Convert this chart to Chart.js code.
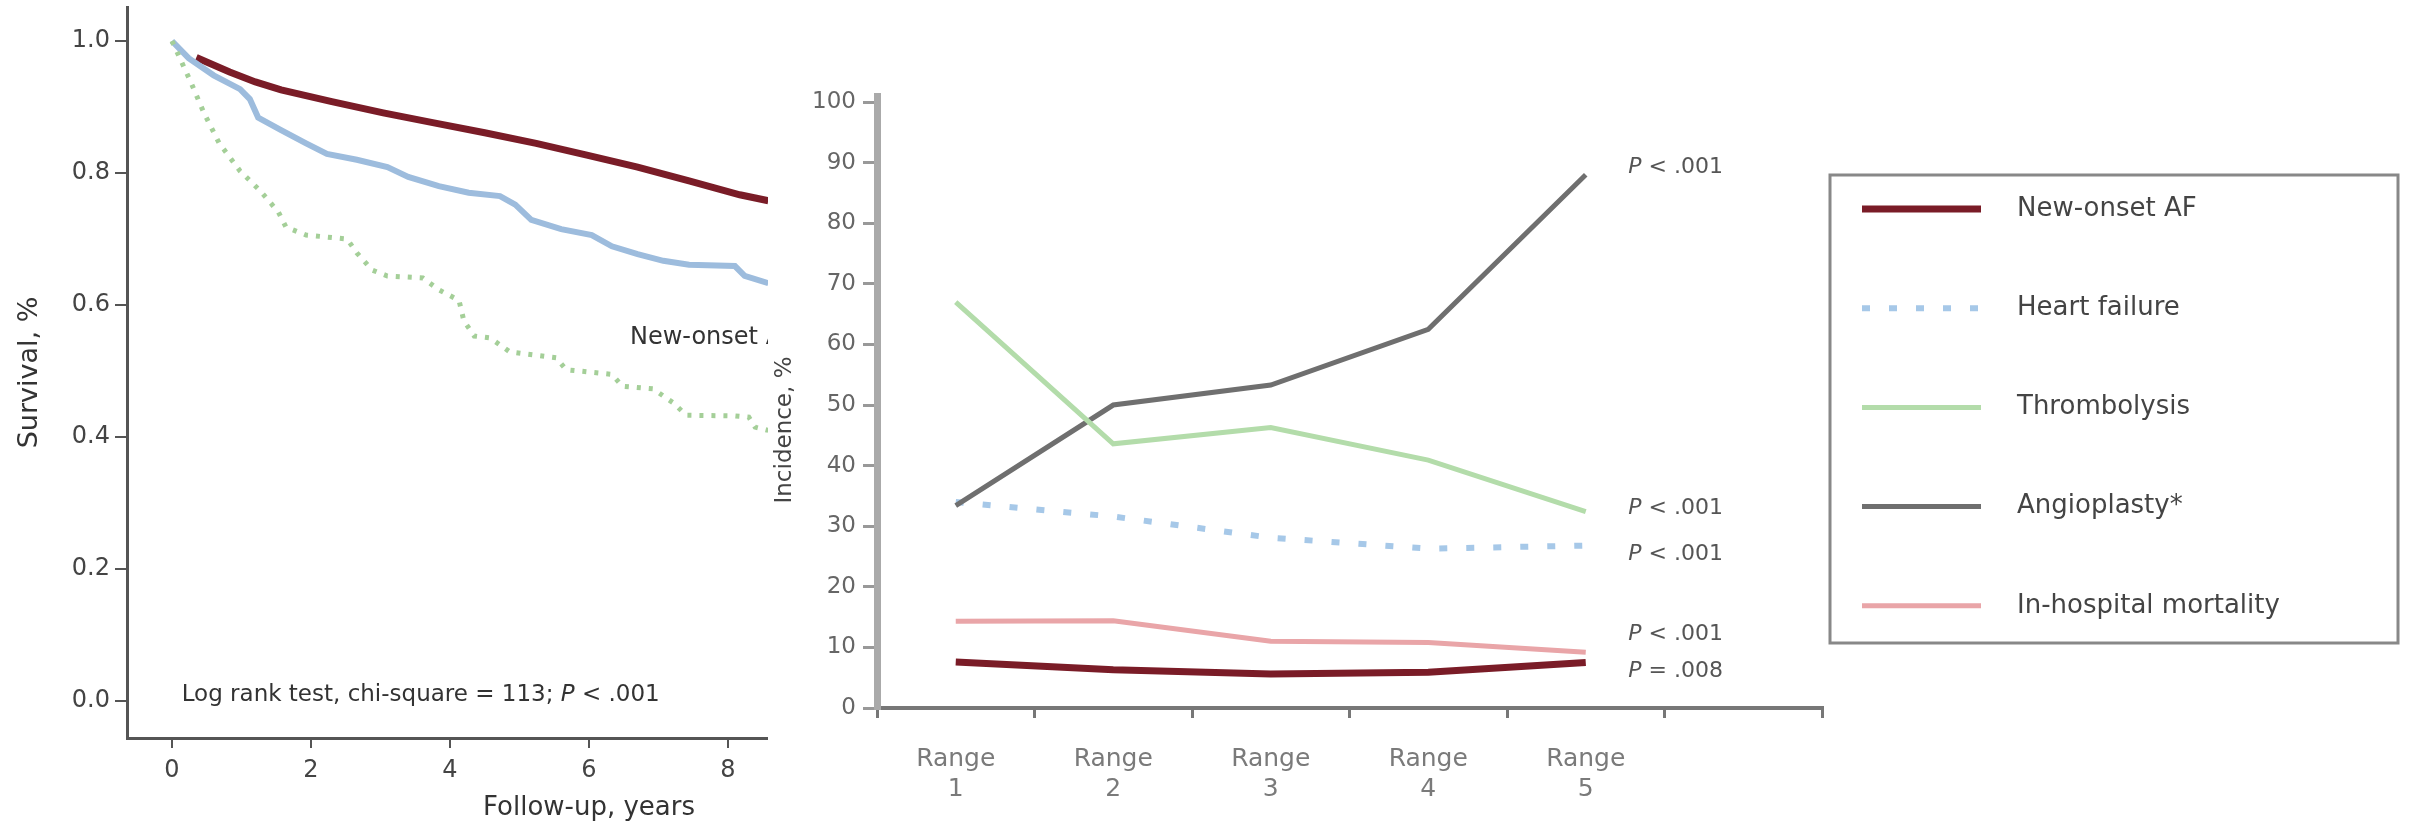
<!DOCTYPE html>
<html>
<head>
<meta charset="utf-8">
<script src="https://cdn.jsdelivr.net/npm/chart.js@4.4.1/dist/chart.umd.min.js"></script>
<style>
  html, body { margin: 0; padding: 0; background: #fff; width: 2415px; height: 828px; overflow: hidden; }
  #survival { position: absolute; left: 0; top: 0; }
  #incidence { position: absolute; left: 768px; top: 0; }
</style>
</head>
<body>
<canvas id="survival" width="768" height="828"></canvas>
<canvas id="incidence" width="1647" height="828"></canvas>
<script>
const FONT = '"DejaVu Sans", "Liberation Sans", sans-serif';

// ---- Kaplan-Meier survival by group (years of follow-up, survival fraction) ----
const noAfYears       = [0.35, 0.83, 1.2, 1.57, 2.3, 3.04, 3.77, 4.5, 5.24, 5.97, 6.7, 7.44, 8.17, 8.58];
const noAfSurvival    = [0.975, 0.953, 0.938, 0.926, 0.908, 0.891, 0.876, 0.861, 0.845, 0.827, 0.809, 0.788, 0.767, 0.758];

const priorAfYears    = [0, 0.24, 0.6, 0.98, 1.12, 1.24, 1.57, 1.93, 2.23, 2.66, 3.1, 3.4, 3.84, 4.27, 4.72, 4.94, 5.17, 5.6, 6.04, 6.33, 6.7, 7.07, 7.44, 8.1, 8.24, 8.58];
const priorAfSurvival = [1.0, 0.974, 0.948, 0.927, 0.912, 0.884, 0.865, 0.845, 0.829, 0.82, 0.809, 0.794, 0.78, 0.77, 0.765, 0.752, 0.729, 0.715, 0.706, 0.689, 0.677, 0.667, 0.661, 0.659, 0.644, 0.633];

const newAfYears      = [0, 0.27, 0.46, 0.68, 0.98, 1.27, 1.53, 1.64, 1.93, 2.52, 2.66, 2.88, 3.1, 3.61, 3.84, 4.13, 4.2, 4.35, 4.58, 4.86, 5.53, 5.67, 6.33, 6.48, 6.92, 7.21, 7.4, 8.1, 8.3, 8.39, 8.58];
const newAfSurvival   = [1.0, 0.938, 0.891, 0.845, 0.803, 0.773, 0.741, 0.718, 0.706, 0.7, 0.679, 0.653, 0.644, 0.641, 0.623, 0.607, 0.576, 0.553, 0.55, 0.529, 0.52, 0.502, 0.495, 0.477, 0.473, 0.452, 0.433, 0.432, 0.43, 0.415, 0.41];

const yearTicks     = [0, 2, 4, 6, 8];
const survivalTicks = [0, 0.2, 0.4, 0.6, 0.8, 1.0];

// ---- In-hospital outcomes across ranges (%) ----
const rangeLabels  = [['Range', '1'], ['Range', '2'], ['Range', '3'], ['Range', '4'], ['Range', '5']];
const newOnsetAF   = [7.6, 6.3, 5.6, 5.9, 7.5];
const heartFailure = [34, 31.6, 28.1, 26.3, 26.8];
const thrombolysis = [67, 43.6, 46.3, 40.9, 32.4];
const angioplasty  = [33.4, 50, 53.3, 62.5, 88];
const mortality    = [14.3, 14.4, 11, 10.8, 9.2];
const incidenceTicks = [0, 10, 20, 30, 40, 50, 60, 70, 80, 90, 100];
const trendP = ['< .001', '< .001', '< .001', '< .001', '= .008'];

const zip = (xs, ys) => xs.map((x, i) => ({ x, y: ys[i] }));
const rangePositions = rangeLabels.map((_, i) => i + 1);

// Draws "P" in italics followed by the rest of the string.
function drawP(ctx, x, y, rest, size) {
  ctx.font = `italic ${size}px ${FONT}`;
  ctx.fillText('P', x, y);
  const w = ctx.measureText('P').width;
  ctx.font = `${size}px ${FONT}`;
  ctx.fillText(' ' + rest, x + w, y);
}

// ---------------- Survival panel ----------------
const survivalText = {
  id: 'survivalText',
  afterDraw(chart) {
    const { ctx, chartArea: a, scales: { x, y } } = chart;
    ctx.save();
    ctx.fillStyle = '#333';
    ctx.textBaseline = 'middle';

    ctx.save();
    ctx.translate(30, (a.top + a.bottom) / 2);
    ctx.rotate(-Math.PI / 2);
    ctx.textAlign = 'center';
    ctx.font = `27px ${FONT}`;
    ctx.fillText('Survival, %', 0, 0);
    ctx.restore();

    ctx.textAlign = 'center';
    ctx.font = `26px ${FONT}`;
    ctx.fillText('Follow-up, years', 589, 808);

    ctx.textAlign = 'left';
    ctx.font = `24px ${FONT}`;
    ctx.fillText('New-onset AF', x.getPixelForValue(6.59), y.getPixelForValue(0.55));

    const lx = x.getPixelForValue(0.14), ly = y.getPixelForValue(0.009);
    ctx.font = `23px ${FONT}`;
    const head = 'Log rank test, chi-square = 113; ';
    ctx.fillText(head, lx, ly);
    drawP(ctx, lx + ctx.measureText(head).width, ly, '< .001', 23);
    ctx.restore();
  }
};

new Chart(document.getElementById('survival'), {
  type: 'scatter',
  data: {
    datasets: [
      { label: 'New-onset AF', data: zip(newAfYears, newAfSurvival), showLine: true, pointRadius: 0,
        borderColor: '#a4cf98', borderWidth: 5, borderDash: [4, 8] },
      { label: 'Previous AF', data: zip(priorAfYears, priorAfSurvival), showLine: true, pointRadius: 0,
        borderColor: '#9dbcdd', borderWidth: 6 },
      { label: 'No AF', data: zip(noAfYears, noAfSurvival), showLine: true, pointRadius: 0,
        borderColor: '#7a1c27', borderWidth: 7 }
    ]
  },
  options: {
    responsive: false, devicePixelRatio: 1, animation: false, events: [],
    layout: { padding: { top: 7, right: 0, bottom: 0, left: 0 } },
    plugins: { legend: { display: false }, tooltip: { enabled: false } },
    scales: {
      x: {
        type: 'linear', min: -0.647, max: 8.576,
        afterBuildTicks: s => { s.ticks = yearTicks.map(v => ({ value: v })); },
        afterFit: s => { s.height = 90; s.paddingLeft = 0; s.paddingRight = 0; },
        ticks: { font: { family: FONT, size: 24 }, color: '#444', padding: 8, maxRotation: 0, autoSkip: false },
        grid: { drawOnChartArea: false, drawTicks: true, tickLength: 10, color: '#555', lineWidth: 2 },
        border: { display: true, color: '#555', width: 3 }
      },
      y: {
        type: 'linear', min: -0.056, max: 1.0515,
        afterBuildTicks: s => { s.ticks = survivalTicks.map(v => ({ value: v })); },
        afterFit: s => { s.width = 127; s.paddingTop = 0; s.paddingBottom = 0; },
        ticks: { font: { family: FONT, size: 24 }, color: '#444', padding: 5, callback: v => Number(v).toFixed(1) },
        grid: { drawOnChartArea: false, drawTicks: true, tickLength: 12, color: '#555', lineWidth: 2 },
        border: { display: true, color: '#555', width: 3 }
      }
    }
  },
  plugins: [survivalText]
});

// ---------------- Incidence panel ----------------
const incidenceText = {
  id: 'incidenceText',
  afterDraw(chart) {
    const { ctx, scales: { x, y } } = chart;
    const ds = chart.data.datasets;
    ctx.save();
    ctx.textBaseline = 'middle';

    // y-axis title
    ctx.save();
    ctx.fillStyle = '#444';
    ctx.translate(17, 430);
    ctx.rotate(-Math.PI / 2);
    ctx.textAlign = 'center';
    ctx.font = `23px ${FONT}`;
    ctx.fillText('Incidence, %', 0, 0);
    ctx.restore();

    // trend P values beside the last range
    const labelAt = { 'Angioplasty*': 89.2, 'Thrombolysis': 33, 'Heart failure': 25.3, 'In-hospital mortality': 12.1, 'New-onset AF': 6 };
    ctx.fillStyle = '#555';
    ctx.textAlign = 'left';
    const px = x.getPixelForValue(5.27);
    ds.forEach(d => {
      drawP(ctx, px, y.getPixelForValue(labelAt[d.label]), d.trend, 22);
    });

    // legend
    const order = ['New-onset AF', 'Heart failure', 'Thrombolysis', 'Angioplasty*', 'In-hospital mortality'];
    const bx = 1062, by = 175, bw = 568, bh = 468;
    ctx.strokeStyle = '#888';
    ctx.lineWidth = 3;
    ctx.setLineDash([]);
    ctx.strokeRect(bx, by, bw, bh);
    order.forEach((name, i) => {
      const d = ds.find(e => e.label === name);
      const ry = 209 + i * 99.2;
      ctx.save();
      ctx.strokeStyle = d.borderColor;
      ctx.lineWidth = d.borderWidth;
      ctx.setLineDash(d.borderDash || []);
      ctx.beginPath();
      ctx.moveTo(1094, ry);
      ctx.lineTo(1213, ry);
      ctx.stroke();
      ctx.restore();
      ctx.fillStyle = '#444';
      ctx.font = `26px ${FONT}`;
      ctx.fillText(name, 1249, ry);
    });
    ctx.restore();
  }
};

new Chart(document.getElementById('incidence'), {
  type: 'scatter',
  data: {
    datasets: [
      { label: 'Thrombolysis', trend: trendP[2], data: zip(rangePositions, thrombolysis), showLine: true, pointRadius: 0,
        borderColor: '#b3dcaa', borderWidth: 5 },
      { label: 'Angioplasty*', trend: trendP[3], data: zip(rangePositions, angioplasty), showLine: true, pointRadius: 0,
        borderColor: '#6f6f6f', borderWidth: 5 },
      { label: 'Heart failure', trend: trendP[1], data: zip(rangePositions, heartFailure), showLine: true, pointRadius: 0,
        borderColor: '#a6c8e8', borderWidth: 6, borderDash: [8, 19] },
      { label: 'New-onset AF', trend: trendP[4], data: zip(rangePositions, newOnsetAF), showLine: true, pointRadius: 0,
        borderColor: '#7a1c27', borderWidth: 7 },
      { label: 'In-hospital mortality', trend: trendP[0], data: zip(rangePositions, mortality), showLine: true, pointRadius: 0,
        borderColor: '#e9a5a8', borderWidth: 5 }
    ]
  },
  options: {
    responsive: false, devicePixelRatio: 1, animation: false, events: [],
    layout: { padding: { top: 96, right: 593, bottom: 0, left: 0 } },
    plugins: { legend: { display: false }, tooltip: { enabled: false } },
    scales: {
      x: {
        type: 'linear', min: 0.5, max: 6.5,
        afterBuildTicks: s => { s.ticks = [1, 2, 3, 4, 5, 6].map(v => ({ value: v })); },
        afterFit: s => { s.height = 120; s.paddingLeft = 0; s.paddingRight = 0; },
        ticks: { callback: v => rangeLabels[v - 1] || '', font: { family: FONT, size: 25 }, color: '#7a7a7a',
                 padding: 26, maxRotation: 0, autoSkip: false },
        grid: { offset: true, drawOnChartArea: false, drawTicks: true, tickLength: 10, color: '#777', lineWidth: 3 },
        border: { display: true, color: '#777', width: 4 }
      },
      y: {
        type: 'linear', min: 0, max: 101,
        afterBuildTicks: s => { s.ticks = incidenceTicks.map(v => ({ value: v })); },
        afterFit: s => { s.width = 109; s.paddingTop = 0; s.paddingBottom = 0; },
        ticks: { font: { family: FONT, size: 23 }, color: '#666', padding: 7 },
        grid: { drawOnChartArea: false, drawTicks: true, tickLength: 14, color: '#999', lineWidth: 3 },
        border: { display: true, color: '#aaa', width: 7 }
      }
    }
  },
  plugins: [incidenceText]
});
</script>
</body>
</html>
